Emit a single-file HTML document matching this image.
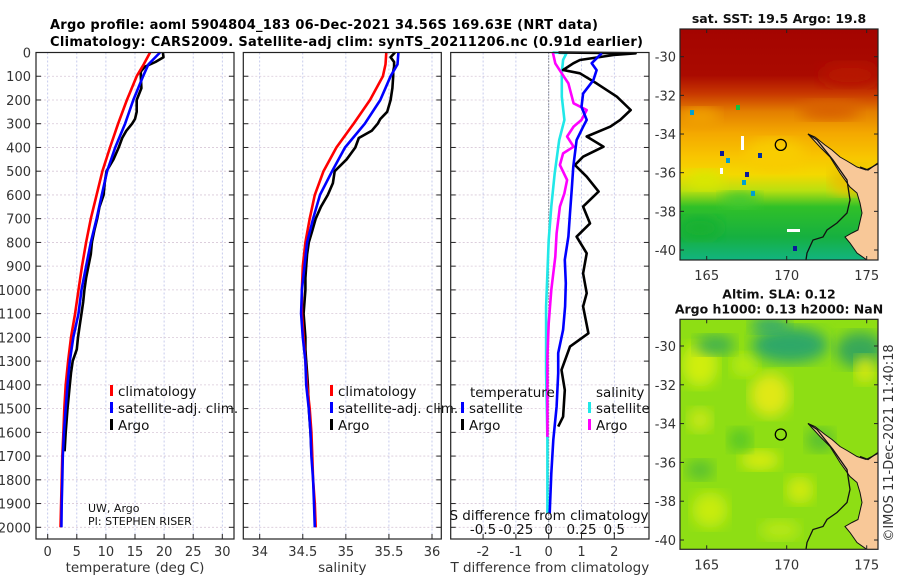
<!DOCTYPE html>
<html><head><meta charset="utf-8"><style>
html,body{margin:0;padding:0;background:#fff;}
svg{display:block;font-family:"DejaVu Sans","Liberation Sans",sans-serif;}
</style></head><body>
<svg id="c" width="900" height="580" viewBox="0 0 900 580" xmlns="http://www.w3.org/2000/svg">
<defs>
<linearGradient id="sstg" x1="0" y1="0" x2="0" y2="1">
<stop offset="0" stop-color="#a40400"/><stop offset="0.2" stop-color="#aa0a00"/>
<stop offset="0.28" stop-color="#c83800"/><stop offset="0.36" stop-color="#e48000"/>
<stop offset="0.45" stop-color="#f4a800"/><stop offset="0.55" stop-color="#f8c400"/>
<stop offset="0.63" stop-color="#f4d800"/><stop offset="0.7" stop-color="#b8e010"/>
<stop offset="0.77" stop-color="#30c028"/><stop offset="0.9" stop-color="#16b040"/>
<stop offset="1" stop-color="#12b480"/></linearGradient>
<filter id="blur6"><feGaussianBlur stdDeviation="7"/></filter>
<clipPath id="clipTop"><rect x="680" y="29" width="198" height="231"/></clipPath>
<clipPath id="clipBot"><rect x="680" y="319" width="198" height="230"/></clipPath>
</defs>
<text x="50" y="29" font-size="13" font-weight="bold" textLength="548">Argo profile: aoml 5904804_183 06-Dec-2021 34.56S 169.63E (NRT data)</text>
<text x="50" y="46" font-size="13" font-weight="bold" textLength="593">Climatology: CARS2009. Satellite-adj clim: synTS_20211206.nc (0.91d earlier)</text>
<g id="panels"></g>
<g id="maps"></g>
</svg>
<script>
// ---------- data ----------
const depthTicks = [0,100,200,300,400,500,600,700,800,900,1000,1100,1200,1300,1400,1500,1600,1700,1800,1900,2000];
const tempTicks = [0,5,10,15,20,25,30];
const salTicks = [34,34.5,35,35.5,36];
const salTickLabels = ["34","34.5","35","35.5","36"];
const tdiffTicks = [-2,-1,0,1,2];
const sdiffTicks = [-0.5,-0.25,0,0.25,0.5];
const sdiffTickLabels = ["-0.5","-0.25","0","0.25","0.5"];

const climDepth = [0,50,100,200,300,400,500,600,700,800,900,1000,1100,1200,1300,1400,1500,1600,1700,1800,1900,2000];
const climTemp = [17.6,16.5,15.3,13.6,12.1,10.7,9.4,8.4,7.4,6.6,5.9,5.3,4.7,4.0,3.5,3.1,2.85,2.7,2.5,2.4,2.3,2.2];
const satTemp = [19.3,17.3,16.4,14.7,13.3,11.6,10.2,9.3,8.4,7.4,6.6,5.8,5.3,4.4,3.8,3.4,3.1,2.8,2.6,2.5,2.4,2.35];
const climSal = [35.47,35.46,35.43,35.28,35.09,34.89,34.74,34.64,34.58,34.53,34.50,34.49,34.49,34.51,34.53,34.55,34.58,34.60,34.61,34.62,34.64,34.65];
const satSal = [35.61,35.60,35.52,35.40,35.22,34.99,34.84,34.70,34.62,34.55,34.52,34.49,34.48,34.50,34.53,34.54,34.57,34.59,34.60,34.62,34.63,34.64];

const argoDepth = [0,20,40,60,80,100,150,200,250,280,300,330,360,400,450,500,550,600,650,700,750,800,850,900,950,1000,1050,1100,1150,1200,1250,1300,1350,1400,1500,1600,1680];
const argoTemp = [19.8,19.9,18.5,16.7,16.0,16.0,16.1,15.3,15.3,15.0,14.5,13.5,12.8,12.2,11.3,10.1,9.8,9.6,8.9,8.5,8.0,7.6,7.4,7.0,6.6,6.3,6.1,5.8,5.5,5.2,5.0,4.3,4.0,3.8,3.4,3.1,2.9];
const argoSal = [35.57,35.52,35.56,35.56,35.55,35.55,35.54,35.52,35.48,35.40,35.37,35.30,35.15,35.11,35.01,34.87,34.85,34.79,34.71,34.65,34.61,34.57,34.55,34.54,34.53,34.53,34.52,34.51,34.52,34.53,34.53,34.54,34.55,34.56,34.57,34.59,34.60];

const tSatDiffDepth = [3,45,74,117,173,229,284,313,369,480,579,677,775,873,972,1070,1168,1266,1351,1492,1632,1773,1941];
const tSatDiff = [1.62,1.31,1.46,1.36,1.05,1.0,1.16,1.05,0.85,0.75,0.70,0.65,0.60,0.49,0.52,0.50,0.44,0.29,0.29,0.24,0.14,0.08,0.03];
const tArgoDiffDepth = [0,3.5,10.5,31.6,45.6,73.7,87.7,130,186,242,284,312,354,397,439,474,523,586,649,720,776,846,930,1014,1070,1183,1239,1337,1422,1534,1576];
const tArgoDiff = [0.3,2.65,1.98,0.95,0.75,0.44,0.95,1.46,2.08,2.5,2.18,1.88,1.16,1.67,1.05,0.80,1.16,1.52,1.05,1.26,0.85,1.16,1.05,1.16,1.05,1.21,0.65,0.39,0.49,0.44,0.29];
const sSatDiffDepth = [0,3,31,88,186,284,369,509,649,790,930,1070,1211,1351,1632,1941];
const sSatDiff = [0.03,0.136,0.11,0.10,0.10,0.12,0.08,0.046,0.02,0.0,-0.01,-0.02,-0.02,-0.02,-0.01,-0.01];
const sArgoDiffDepth = [0,3,46,88,130,214,242,284,312,354,397,425,474,537,593,649,762,860,1000,1141,1281,1422,1619];
const sArgoDiff = [0.03,0.033,0.05,0.10,0.15,0.19,0.29,0.25,0.19,0.14,0.19,0.11,0.085,0.14,0.12,0.085,0.06,0.05,0.02,0.0,-0.01,-0.01,-0.01];

const argoLon = 169.63, argoLat = -34.56;
const lonTicks = [165,170,175];
const latTicks = [-30,-32,-34,-36,-38,-40];

// ---------- helpers ----------
const NS = "http://www.w3.org/2000/svg";
function mk(tag, attrs, parent){const e=document.createElementNS(NS,tag);for(const k in attrs)e.setAttribute(k,attrs[k]);parent.appendChild(e);return e;}
const TOP=52.5, BOT=539;
function yD(d){return TOP + d*0.2374;}
function lin(d0,d1,r0,r1){return v=>r0+(v-d0)*(r1-r0)/(d1-d0);}
const xT = lin(0,30,47.7,222.3);
const xS = lin(34,36,259.7,432);
const xTD = lin(0,2,548.7,614.3);
const xSD = lin(0,0.5,548.7,614.3);
const xLon = lin(165,175,706.7,866.7);
const yLatTop = lin(-30,-40,56.7,250);
const yLatBot = lin(-30,-40,346,540);

const P = document.getElementById('panels');
const panels = [
 {name:'temperature-panel',x0:36,x1:234,ticks:tempTicks,labels:tempTicks.map(String),sc:xT,title:'temperature (deg C)'},
 {name:'salinity-panel',x0:243.3,x1:441.3,ticks:salTicks,labels:salTickLabels,sc:xS,title:'salinity'},
 {name:'difference-panel',x0:450.7,x1:649,ticks:tdiffTicks,labels:tdiffTicks.map(String),sc:xTD,title:'T difference from climatology'}
];
panels.forEach((p,i)=>{
  const g=mk('g',{},P);
  
  
  p.ticks.forEach(t=>{const l=mk('line',{x1:p.sc(t),x2:p.sc(t),y1:TOP,y2:BOT,stroke:'#b9bfe8','stroke-width':0.8,'stroke-dasharray':'2,2'},g);
    });
  depthTicks.forEach(d=>{const l=mk('line',{x1:p.x0,x2:p.x1,y1:yD(d),y2:yD(d),stroke:'#d8c8d8','stroke-width':0.8,'stroke-dasharray':'2,2'},g);
    });
  depthTicks.forEach(d=>{mk('line',{x1:p.x0,x2:p.x0+5,y1:yD(d),y2:yD(d),stroke:'#222'},g);mk('line',{x1:p.x1-5,x2:p.x1,y1:yD(d),y2:yD(d),stroke:'#222'},g);});
  p.ticks.forEach((t,k)=>{mk('line',{x1:p.sc(t),x2:p.sc(t),y1:BOT,y2:BOT-5,stroke:'#222'},g);
    const tx=mk('text',{x:p.sc(t),y:556,'font-size':13,'text-anchor':'middle',fill:'#333'},g);tx.textContent=p.labels[k];
    });
  const tt=mk('text',{x:(p.x0+p.x1)/2,y:572,'font-size':13.5,'text-anchor':'middle',fill:'#333'},g);tt.textContent=p.title;
  
  p.g=g;
});
depthTicks.forEach(d=>{const t=mk('text',{x:31,y:yD(d)+5,'font-size':13,'text-anchor':'end',fill:'#333'},P);t.textContent=d;
  });

function line(g,depths,vals,sc,color,name,w){
  const pts=depths.map((d,i)=>sc(vals[i]).toFixed(1)+','+yD(d).toFixed(1)).join(' ');
  const l=mk('polyline',{points:pts,fill:'none',stroke:color,'stroke-width':w||2.6,'stroke-linejoin':'round'},g);
  
  
}
mk('line',{x1:xTD(0),x2:xTD(0),y1:TOP,y2:BOT,stroke:'#444','stroke-width':1,'stroke-dasharray':'1,2'},panels[2].g);

line(panels[0].g,argoDepth,argoTemp,xT,'#000','argo-temperature-line');
line(panels[0].g,climDepth,climTemp,xT,'#f00','climatology-temperature-line');
line(panels[0].g,climDepth,satTemp,xT,'#00f','satellite-temperature-line');
line(panels[1].g,argoDepth,argoSal,xS,'#000','argo-salinity-line');
line(panels[1].g,climDepth,climSal,xS,'#f00','climatology-salinity-line');
line(panels[1].g,climDepth,satSal,xS,'#00f','satellite-salinity-line');
line(panels[2].g,sSatDiffDepth,sSatDiff,xSD,'#20e8e8','salinity-satellite-diff-line');
line(panels[2].g,tArgoDiffDepth,tArgoDiff,xTD,'#000','temperature-argo-diff-line');
line(panels[2].g,sArgoDiffDepth,sArgoDiff,xSD,'#f0f','salinity-argo-diff-line');
line(panels[2].g,tSatDiffDepth,tSatDiff,xTD,'#00f','temperature-satellite-diff-line');

panels.forEach(p=>{mk('rect',{x:p.x0,y:TOP,width:p.x1-p.x0,height:BOT-TOP,fill:'none',stroke:'#222','stroke-width':1.2},p.g);});

function legend(g,x,y,color,label){
  mk('rect',{x:x-2,y:y-7,width:3,height:11,fill:color},g);
  const t=mk('text',{x:x+6,y:y+4,'font-size':13.5,fill:'#111'},g);t.textContent=label;
  
}
[[0,112],[1,332]].forEach(([i,x])=>{
  legend(panels[i].g,x,392,'#f00','climatology');
  legend(panels[i].g,x,409,'#00f','satellite-adj. clim.');
  legend(panels[i].g,x,426,'#000','Argo');
});
(function(){const g=panels[2].g;
 const t1=mk('text',{x:470,y:397,'font-size':13.5,fill:'#111'},g);t1.textContent='temperature';
 
 const t2=mk('text',{x:596,y:397,'font-size':13.5,fill:'#111'},g);t2.textContent='salinity';
 
 legend(g,463,409,'#00f','satellite');legend(g,463,426,'#000','Argo');
 legend(g,590,409,'#20e8e8','satellite');legend(g,590,426,'#f0f','Argo');
 const s=mk('text',{x:549,y:520,'font-size':13.5,'text-anchor':'middle',fill:'#111'},g);s.textContent='S difference from climatology';
 
 sdiffTicks.forEach((v,k)=>{const t=mk('text',{x:xSD(v),y:534,'font-size':13.5,'text-anchor':'middle',fill:'#111'},g);t.textContent=sdiffTickLabels[k];
   });
})();
(function(){const g=panels[0].g;
 const a=mk('text',{x:88,y:512,'font-size':11,fill:'#111'},g);a.textContent='UW, Argo';
 
 const b=mk('text',{x:88,y:525,'font-size':11,fill:'#111'},g);b.textContent='PI: STEPHEN RISER';
 
})();

// ---------- maps ----------
const M=document.getElementById('maps');
const land="M808,134 L815,137 L825,145 L832,150 L840,157 L847,161 L857,167 L866,170 L878,164 L878,260 L867,260 L857,253 L850,243 L845,237 L852,233 L858,230 L862,213 L860,203 L857,193 L850,187 L840,173 L830,157 L820,147 Z";
const coast1="M808,134 L817,140 L833,160 L847,180 L850,200 L847,213 L837,223 L827,230 L823,237 L813,240 L807,253 L806,260";
const coast2="M860,167 L868,170 L878,163";
function map(top,yL,clip,title,kind){
  const g=mk('g',{},M);
  
  
  const cg=mk('g',{'clip-path':'url(#'+clip+')'},g);
  const h=kind==='sst'?231:230;
  if(kind==='sst'){
    mk('rect',{x:680,y:top,width:198,height:h,fill:'url(#sstg)'},cg);
    [[850,75,'#b81800',30,12],[700,118,'#f0a000',20,10],[830,110,'#d86000',30,10],[775,155,'#f8cc00',30,16],[705,180,'#d8e800',20,10],[700,228,'#18b030',22,12],[740,200,'#40c830',20,8],[850,180,'#e8c000',20,15]].forEach(b=>mk('ellipse',{cx:b[0],cy:b[1],rx:b[3],ry:b[4],fill:b[2],filter:'url(#blur6)'},cg));
    [[720,151,'#0a1a9a'],[745,172,'#0a1a9a'],[758,153,'#0030a0'],[742,180,'#00a0d0'],[793,246,'#0a1a9a'],[751,191,'#00a0d0'],[726,158,'#00a0d0'],[690,110,'#00a0d0'],[736,105,'#10c040']].forEach(b=>mk('rect',{x:b[0],y:b[1],width:4,height:5,fill:b[2]},cg));
    mk('rect',{x:741,y:136,width:3,height:14,fill:'#fff'},cg);
    mk('rect',{x:787,y:229,width:13,height:3,fill:'#fff'},cg);
    mk('rect',{x:720,y:168,width:3,height:6,fill:'#fff'},cg);
  } else {
    mk('rect',{x:680,y:top,width:198,height:h,fill:'#8ede14'},cg);
    [[700,365,'#d0ee10',18,22],[770,395,'#e0e818',20,22],[745,365,'#b8ea10',14,12],[790,345,'#2ea868',38,18],[860,350,'#38a858',24,18],[715,345,'#40b050',20,10],[710,510,'#c8ec10',18,18],[800,490,'#d0ea10',14,14],[865,370,'#d8e810',10,14],[760,460,'#d8ec10',20,10],[700,470,'#58c030',14,10],[740,440,'#58c828',12,12],[820,440,'#58c030',14,12],[770,325,'#30a870',20,8],[700,420,'#c8e818',12,12],[780,530,'#b8e818',20,10]].forEach(b=>mk('ellipse',{cx:b[0],cy:b[1],rx:b[3],ry:b[4],fill:b[2],filter:'url(#blur6)'},cg));
  }
  const lg=mk('g',{transform:'translate(0,'+(kind==='sst'?0:289.5)+')'},cg);
  mk('path',{d:land,fill:'#f8c898',stroke:'#111','stroke-width':1},lg);
  mk('path',{d:coast1,fill:'none',stroke:'#111','stroke-width':1.3},lg);
  mk('path',{d:coast2,fill:'none',stroke:'#111','stroke-width':1.3},lg);
  const c=mk('circle',{cx:xLon(argoLon),cy:yL(argoLat),r:5.5,fill:'none',stroke:'#000','stroke-width':1.3},g);
  
  mk('rect',{x:680,y:top,width:198,height:h,fill:'none',stroke:'#222','stroke-width':1.2},g);
  lonTicks.forEach(v=>{mk('line',{x1:xLon(v),x2:xLon(v),y1:top,y2:top+4,stroke:'#222'},g);mk('line',{x1:xLon(v),x2:xLon(v),y1:top+h,y2:top+h-4,stroke:'#222'},g);
    const t=mk('text',{x:xLon(v),y:top+h+20,'font-size':13,'text-anchor':'middle',fill:'#333'},g);t.textContent=v;
    });
  latTicks.forEach(v=>{mk('line',{x1:680,x2:684,y1:yL(v),y2:yL(v),stroke:'#222'},g);mk('line',{x1:878,x2:874,y1:yL(v),y2:yL(v),stroke:'#222'},g);
    const t=mk('text',{x:676,y:yL(v)+5,'font-size':13,'text-anchor':'end',fill:'#333'},g);t.textContent=v;
    });
  title.forEach((s,k)=>{const t=mk('text',{x:779,y:top-(title.length-1-k)*15-6,'font-size':12.5,'font-weight':'bold','text-anchor':'middle',fill:'#111'},g);t.textContent=s;
    });
}
map(29,yLatTop,'clipTop',['sat. SST: 19.5 Argo: 19.8'],'sst');
map(319.3,yLatBot,'clipBot',['Altim. SLA: 0.12','Argo h1000: 0.13 h2000: NaN'],'sla');
const cr=mk('text',{x:0,y:0,'font-size':13,'text-anchor':'middle',fill:'#333',transform:'translate(893,443) rotate(-90)'},M);
cr.textContent='©IMOS 11-Dec-2021 11:40:18';


</script>
</body></html>
